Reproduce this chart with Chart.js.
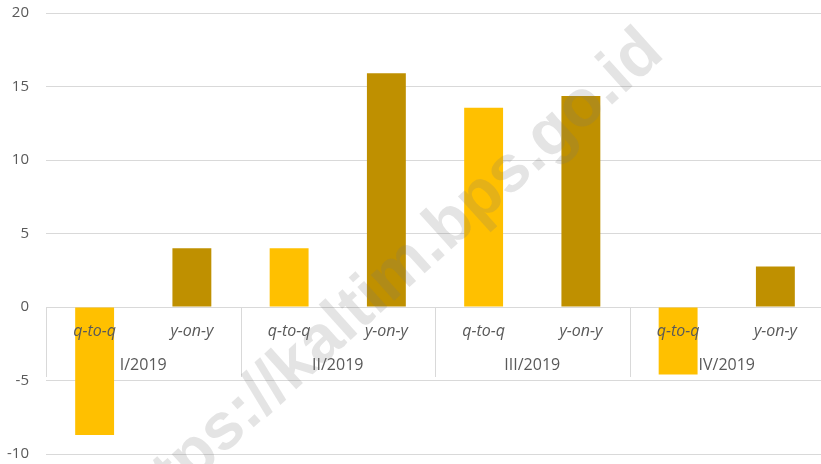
<!DOCTYPE html>
<html>
<head>
<meta charset="utf-8">
<script src="https://cdn.jsdelivr.net/npm/chart.js@4"></script>
<style>
  html, body { margin: 0; padding: 0; overflow: hidden; background: #fff; }
  #wrap { width: 824px; height: 464px; position: relative; }
</style>
</head>
<body>
<div id="wrap"><canvas id="chart"></canvas></div>
<script>
const quarters = ["I/2019", "II/2019", "III/2019", "IV/2019"];
const measures = ["q-to-q", "y-on-y"];
const qtoq = [-8.7, 4.0, 13.55, -4.6];
const yony = [4.0, 15.9, 14.35, 2.75];
const yTicks = [-10, -5, 0, 5, 10, 15, 20];

const colours = { "q-to-q": "#FFC000", "y-on-y": "#BF9000" };
const gridColour = "#d9d9d9";
const textColour = "#595959";

// flatten to one bar per (quarter, measure)
const labels = [];
const values = [];
const barColours = [];
quarters.forEach((q, i) => {
  measures.forEach((m) => {
    labels.push(m);
    values.push(m === "q-to-q" ? qtoq[i] : yony[i]);
    barColours.push(colours[m]);
  });
});

// category labels drawn inside the plot under the zero line, plus watermark
const labelPlugin = {
  id: "innerLabels",
  afterDatasetsDraw(chart) {
    const { ctx, scales } = chart;
    const x = scales.x;
    const y = scales.y;
    const y0 = y.getPixelForValue(0);
    const half = (x.getPixelForValue(1) - x.getPixelForValue(0)) / 2;
    ctx.save();

    // group separators
    ctx.strokeStyle = gridColour;
    ctx.lineWidth = 1;
    for (let g = 0; g <= quarters.length; g++) {
      const px = Math.round(x.getPixelForValue(g * 2) - half) + 0.5;
      ctx.beginPath();
      ctx.moveTo(px, y0);
      ctx.lineTo(px, y0 + 70);
      ctx.stroke();
    }

    ctx.fillStyle = textColour;
    ctx.textAlign = "center";
    ctx.textBaseline = "middle";
    ctx.font = "italic 16px 'Open Sans'";
    labels.forEach((l, i) => {
      ctx.fillText(l, x.getPixelForValue(i), y0 + 24);
    });
    ctx.font = "16px 'Open Sans'";
    quarters.forEach((q, g) => {
      const cx = (x.getPixelForValue(g * 2) + x.getPixelForValue(g * 2 + 1)) / 2;
      ctx.fillText(q, cx, y0 + 58);
    });

    // watermark
    ctx.translate(666, 56);
    ctx.rotate(-42 * Math.PI / 180);
    ctx.textAlign = "right";
    ctx.textBaseline = "alphabetic";
    ctx.font = "bold 66px 'Liberation Sans'";
    ctx.fillStyle = "rgba(120,120,120,0.2)";
    ctx.fillText("https://kaltim.bps.go.id", 0, 0);
    ctx.restore();
  },
};

new Chart(document.getElementById("chart"), {
  type: "bar",
  data: {
    labels: labels,
    datasets: [{
      data: values,
      backgroundColor: barColours,
      categoryPercentage: 0.8,
      barPercentage: 0.5,
    }],
  },
  options: {
    responsive: true,
    maintainAspectRatio: false,
    animation: false,
    layout: { padding: { top: 13, bottom: 10, left: 0, right: 0 } },
    plugins: {
      legend: { display: false },
      tooltip: { enabled: false },
    },
    scales: {
      x: { display: false },
      y: {
        min: -10,
        max: 20,
        afterBuildTicks: (scale) => {
          scale.ticks = yTicks.map((v) => ({ value: v }));
        },
        afterFit: (scale) => {
          scale.width = 46;
          scale.paddingTop = 0;
          scale.paddingBottom = 0;
        },
        border: { display: false },
        grid: { color: gridColour, drawTicks: false },
        ticks: {
          color: textColour,
          padding: 17,
          font: { family: "'Open Sans'", size: 15 },
        },
      },
    },
  },
  plugins: [labelPlugin],
});
</script>
</body>
</html>
